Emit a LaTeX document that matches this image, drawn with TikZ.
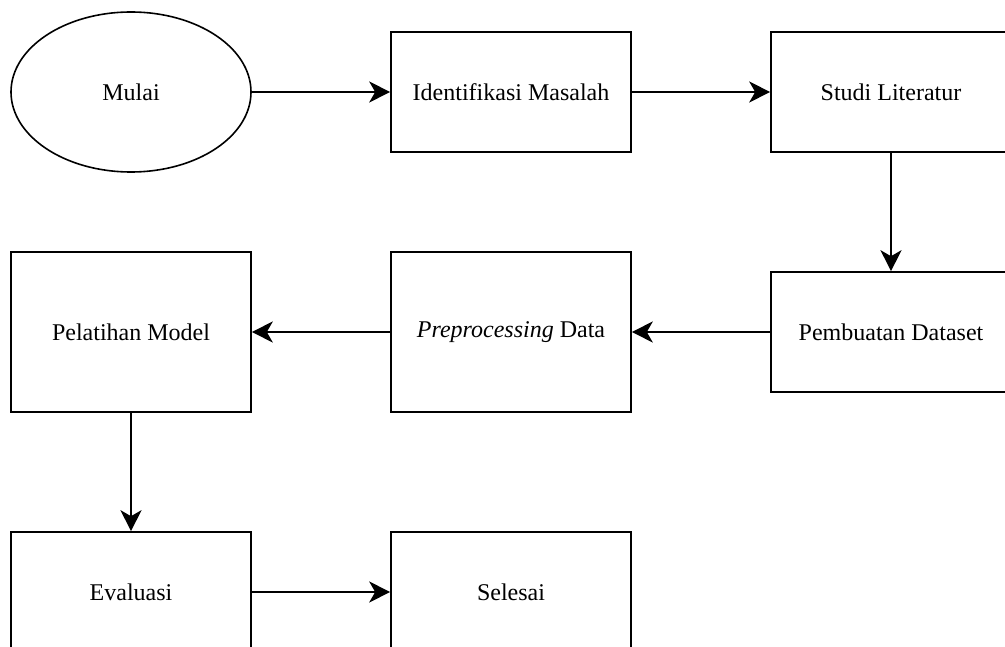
\documentclass[tikz,border=0pt]{standalone}
\usepackage{fontspec}
\setmainfont{Liberation Serif}
\usetikzlibrary{arrows.meta,shapes.geometric}
\tikzset{
  box/.style={draw, line width=1.6pt, minimum width=240pt, minimum height=120pt,
    inner sep=0pt, font=\fontsize{24}{28}\selectfont},
  tallbox/.style={box, minimum height=160pt},
  oval/.style={tallbox, ellipse},
  link/.style={line width=1.8pt, -{Stealth[length=21pt,width=21pt,inset=6pt]}}
}
\begin{document}
\begin{tikzpicture}[x=1pt,y=1pt]
      \useasboundingbox (0,0) rectangle (1005,-647);
      \clip (0,0) rectangle (1005,-647);
      \draw
        (131,-92) node[oval] (mulai){Mulai}
        (511,-92) node[box] (ident){Identifikasi Masalah}
        (891,-92) node[box] (studi){Studi Literatur}
        (891,-332) node[box] (dataset){Pembuatan Dataset}
        (511,-332) node[tallbox] (prepro){\textit{Preprocessing} Data}
        (131,-332) node[tallbox] (latih){Pelatihan Model}
        (131,-592) node[box] (eval){Evaluasi}
        (511,-592) node[box] (selesai){Selesai};
      \begin{scope}[link]
        \draw (mulai) to (ident);
        \draw (ident) to (studi);
        \draw (studi) to (dataset);
        \draw (dataset) to (prepro);
        \draw (prepro) to (latih);
        \draw (latih) to (eval);
        \draw (eval) to (selesai);
      \end{scope}
    \end{tikzpicture}
\end{document}
